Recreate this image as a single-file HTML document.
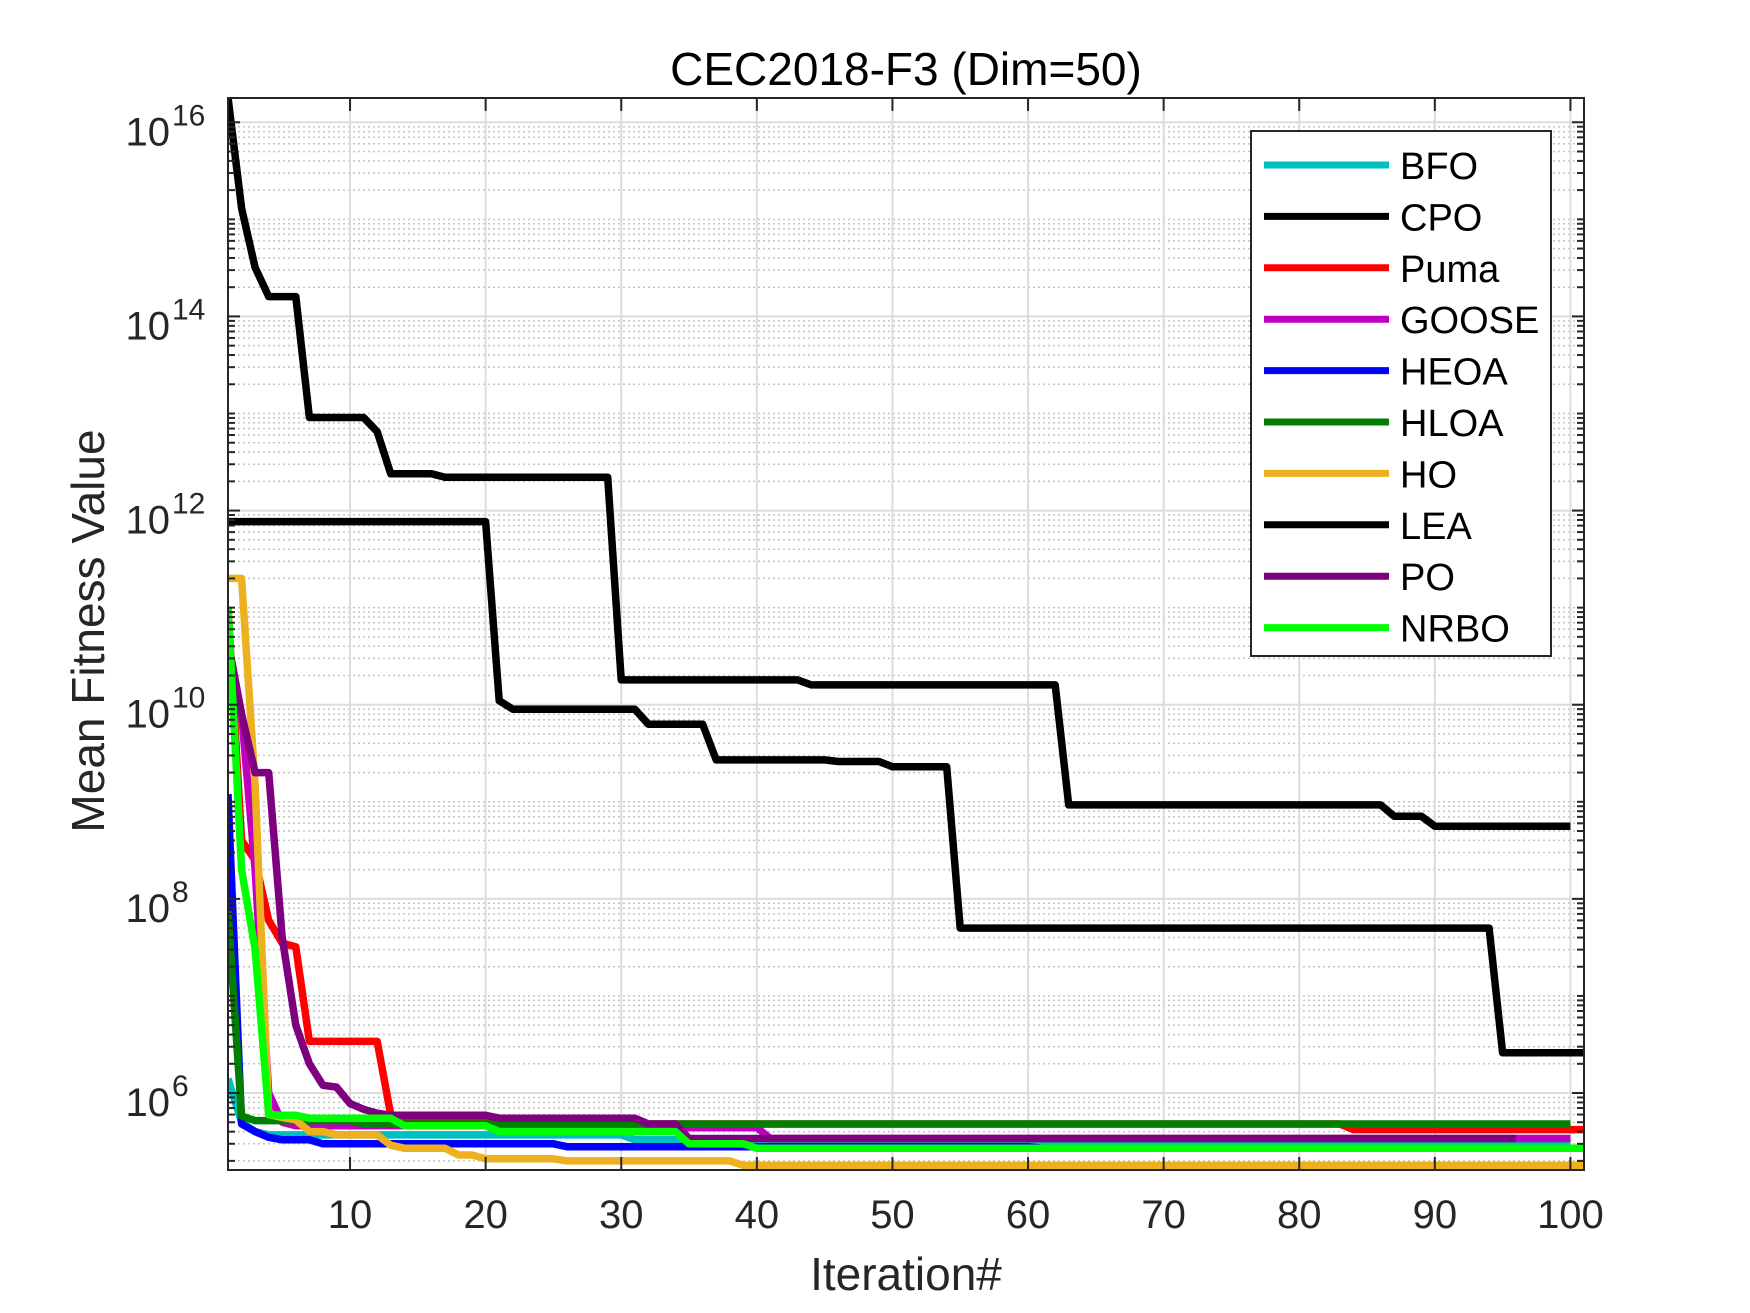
<!DOCTYPE html>
<html><head><meta charset="utf-8"><style>
html,body{margin:0;padding:0;background:#fff}
svg{display:block;font-family:"Liberation Sans",Arial,sans-serif}
</style></head><body>
<svg id="chart" width="1750" height="1313" viewBox="0 0 1750 1313" xmlns="http://www.w3.org/2000/svg">
<rect width="1750" height="1313" fill="#fff"/>
<defs><clipPath id="plotclip"><rect x="228" y="98" width="1356" height="1072"/></clipPath></defs>
<g id="grid"></g>
<g id="series" clip-path="url(#plotclip)"></g>
<g id="axes"></g>
<text x="906" y="85" font-size="46" text-anchor="middle" fill="#000">CEC2018-F3 (Dim=50)</text>
<text x="906" y="1290" font-size="46" text-anchor="middle" fill="#262626">Iteration#</text>
<text transform="translate(104,631) rotate(-90)" font-size="46" text-anchor="middle" fill="#262626">Mean Fitness Value</text>
<g id="legend"></g>
</svg>
<script>
const names = ["BFO","CPO","Puma","GOOSE","HEOA","HLOA","HO","LEA","PO","NRBO"];
const colors = ["#00BFBF","#000000","#FF0000","#BF00BF","#0000FF","#007F00","#EDB120","#000000","#7E007E","#00FF00"];
const xTicks = [10,20,30,40,50,60,70,80,90,100];
const yTickExps = [6,8,10,12,14,16];

const BFO = [1.4e6,5e5,4e5,3.7e5,3.7e5,3.7e5,3.7e5,3.7e5,3.7e5,3.7e5,3.7e5,3.7e5,3.7e5,3.7e5,3.7e5,3.7e5,3.7e5,3.7e5,3.7e5,3.7e5,3.7e5,3.7e5,3.7e5,3.7e5,3.7e5,3.7e5,3.7e5,3.7e5,3.7e5,3.7e5,
3.3e5,3.3e5,3.3e5,3.3e5,3.3e5,3.3e5,3.3e5,3.3e5,3.3e5,3.3e5,3.3e5,3.3e5,3.3e5,3.3e5,3.3e5,3.3e5,3.3e5,3.3e5,3.3e5,3.3e5,3.3e5,3.3e5,3.3e5,3.3e5,3.3e5,3.3e5,3.3e5,3.3e5,3.3e5,3.3e5,
3.1e5,3.1e5,3.1e5,3.1e5,3.1e5,3.1e5,3.1e5,3.1e5,3.1e5,3.1e5,3.1e5,3.1e5,3.1e5,3.1e5,3.1e5,3.1e5,3.1e5,3.1e5,3.1e5,3.1e5,3.1e5,3.1e5,3.1e5,3.1e5,3.1e5,3.1e5,3.1e5,3.1e5,3.1e5,3.1e5,3.1e5,3.1e5,3.1e5,3.1e5,3.1e5,3.1e5,3.1e5,3.1e5,3.1e5,3.1e5];
const CPO = [1.8e16,1.3e15,3.2e14,1.6e14,1.6e14,1.6e14,9.1e12,9.1e12,9.1e12,9.1e12,9.1e12,6.5e12,2.4e12,2.4e12,2.4e12,2.4e12,
2.2e12,2.2e12,2.2e12,2.2e12,2.2e12,2.2e12,2.2e12,2.2e12,2.2e12,2.2e12,2.2e12,2.2e12,2.2e12,
1.8e10,1.8e10,1.8e10,1.8e10,1.8e10,1.8e10,1.8e10,1.8e10,1.8e10,1.8e10,1.8e10,1.8e10,1.8e10,1.8e10,
1.6e10,1.6e10,1.6e10,1.6e10,1.6e10,1.6e10,1.6e10,1.6e10,1.6e10,1.6e10,1.6e10,1.6e10,1.6e10,1.6e10,1.6e10,1.6e10,1.6e10,1.6e10,1.6e10,
9.3e8,9.3e8,9.3e8,9.3e8,9.3e8,9.3e8,9.3e8,9.3e8,9.3e8,9.3e8,9.3e8,9.3e8,9.3e8,9.3e8,9.3e8,9.3e8,9.3e8,9.3e8,9.3e8,9.3e8,9.3e8,9.3e8,9.3e8,9.3e8,
7.1e8,7.1e8,7.1e8,5.6e8,5.6e8,5.6e8,5.6e8,5.6e8,5.6e8,5.6e8,5.6e8,5.6e8,5.6e8,5.6e8];
const Puma = [1e11,4e8,2.5e8,6e7,3.5e7,3.2e7,3.4e6,3.4e6,3.4e6,3.4e6,3.4e6,3.4e6,6e5,5.3e5,5.3e5,5.3e5,5.3e5,5.3e5,5.3e5,5.3e5,
4.8e5,4.8e5,4.8e5,4.8e5,4.8e5,4.8e5,4.8e5,4.8e5,4.8e5,4.8e5,4.8e5,4.8e5,4.8e5,4.8e5,4.8e5,4.8e5,4.8e5,4.8e5,4.8e5,4.8e5,4.8e5,4.8e5,4.8e5,4.8e5,4.8e5,4.8e5,4.8e5,4.8e5,4.8e5,4.8e5,4.8e5,4.8e5,4.8e5,4.8e5,4.8e5,4.8e5,4.8e5,4.8e5,4.8e5,4.8e5,4.8e5,4.8e5,4.8e5,4.8e5,4.8e5,4.8e5,4.8e5,4.8e5,4.8e5,4.8e5,4.8e5,4.8e5,4.8e5,4.8e5,4.8e5,4.8e5,4.8e5,4.8e5,4.8e5,4.8e5,4.8e5,4.8e5,4.8e5,
4.2e5,4.2e5,4.2e5,4.2e5,4.2e5,4.2e5,4.2e5,4.2e5,4.2e5,4.2e5,4.2e5,4.2e5,4.2e5,4.2e5,4.2e5,4.2e5,4.2e5,4.2e5];
const GOOSE = [3.5e10,8e9,2e8,1e6,5e5,4.6e5,4.6e5,4.6e5,4.6e5,4.6e5,4.6e5,4.6e5,4.6e5,4.6e5,4.6e5,4.6e5,4.6e5,4.6e5,4.6e5,4.6e5,
4.4e5,4.4e5,4.4e5,4.4e5,4.4e5,4.4e5,4.4e5,4.4e5,4.4e5,4.4e5,4.4e5,4.4e5,4.4e5,4.4e5,4.4e5,4.4e5,4.4e5,4.4e5,4.4e5,4.4e5,
3.4e5,3.4e5,3.4e5,3.4e5,3.4e5,3.4e5,3.4e5,3.4e5,3.4e5,3.4e5,3.4e5,3.4e5,3.4e5,3.4e5,3.4e5,3.4e5,3.4e5,3.4e5,3.4e5,3.4e5,3.4e5,3.4e5,3.4e5,3.4e5,3.4e5,3.4e5,3.4e5,3.4e5,3.4e5,3.4e5,3.4e5,3.4e5,3.4e5,3.4e5,3.4e5,3.4e5,3.4e5,3.4e5,3.4e5,3.4e5,3.4e5,3.4e5,3.4e5,3.4e5,3.4e5,3.4e5,3.4e5,3.4e5,3.4e5,3.4e5,3.4e5,3.4e5,3.4e5,3.4e5,3.4e5,3.4e5,3.4e5,3.4e5,3.4e5,3.4e5];
const HEOA = [1.2e9,4.8e5,4e5,3.5e5,3.3e5,3.3e5,3.3e5,3e5,3e5,3e5,3e5,3e5,3e5,3e5,3e5,3e5,3e5,3e5,3e5,3e5,3e5,3e5,3e5,3e5,3e5,
2.8e5,2.8e5,2.8e5,2.8e5,2.8e5,2.8e5,2.8e5,2.8e5,2.8e5,2.8e5,2.8e5,2.8e5,2.8e5,2.8e5,2.8e5,2.8e5,2.8e5,2.8e5,2.8e5,2.8e5,2.8e5,2.8e5,2.8e5,2.8e5,2.8e5,2.8e5,2.8e5,2.8e5,2.8e5,2.8e5,2.8e5,2.8e5,2.8e5,2.8e5,2.8e5,
2.7e5,2.7e5,2.7e5,2.7e5,2.7e5,2.7e5,2.7e5,2.7e5,2.7e5,2.7e5,2.7e5,2.7e5,2.7e5,2.7e5,2.7e5,2.7e5,2.7e5,2.7e5,2.7e5,2.7e5,2.7e5,2.7e5,2.7e5,2.7e5,2.7e5,2.7e5,2.7e5,2.7e5,2.7e5,2.7e5,2.7e5,2.7e5,2.7e5,2.7e5,2.7e5,2.7e5,2.7e5,2.7e5,2.7e5,2.7e5];
const HLOA = [7.5e7,5.8e5,5.2e5,5.2e5,5.2e5,5.2e5,5.2e5,5.2e5,5.2e5,5.2e5,
4.8e5,4.8e5,4.8e5,4.8e5,4.8e5,4.8e5,4.8e5,4.8e5,4.8e5,4.8e5,4.8e5,4.8e5,4.8e5,4.8e5,4.8e5,4.8e5,4.8e5,4.8e5,4.8e5,4.8e5,4.8e5,4.8e5,4.8e5,4.8e5,4.8e5,4.8e5,4.8e5,4.8e5,4.8e5,4.8e5,4.8e5,4.8e5,4.8e5,4.8e5,4.8e5,4.8e5,4.8e5,4.8e5,4.8e5,4.8e5,4.8e5,4.8e5,4.8e5,4.8e5,4.8e5,
4.8e5,4.8e5,4.8e5,4.8e5,4.8e5,4.8e5,4.8e5,4.8e5,4.8e5,4.8e5,4.8e5,4.8e5,4.8e5,4.8e5,4.8e5,4.8e5,4.8e5,4.8e5,4.8e5,4.8e5,4.8e5,4.8e5,4.8e5,4.8e5,4.8e5,4.8e5,4.8e5,4.8e5,4.8e5,4.8e5,4.8e5,4.8e5,4.8e5,4.8e5,4.8e5,4.8e5,4.8e5,4.8e5,4.8e5,4.8e5,4.8e5,4.8e5,4.8e5,4.8e5,4.8e5];
const HO = [2e11,2e11,1.5e9,6e5,5.6e5,5.3e5,4e5,4e5,3.7e5,3.7e5,3.7e5,3.7e5,2.9e5,2.7e5,2.7e5,2.7e5,2.7e5,2.3e5,2.3e5,2.1e5,2.1e5,2.1e5,2.1e5,2.1e5,2.1e5,
2e5,2e5,2e5,2e5,2e5,2e5,2e5,2e5,2e5,2e5,2e5,2e5,2e5,
1.8e5,1.8e5,1.8e5,1.8e5,1.8e5,1.8e5,1.8e5,1.8e5,1.8e5,1.8e5,1.8e5,1.8e5,1.8e5,1.8e5,1.8e5,1.8e5,1.8e5,1.8e5,1.8e5,1.8e5,1.8e5,1.8e5,1.8e5,1.8e5,1.8e5,1.8e5,1.8e5,1.8e5,1.8e5,1.8e5,1.8e5,1.8e5,1.8e5,1.8e5,1.8e5,1.8e5,1.8e5,1.8e5,1.8e5,1.8e5,1.8e5,1.8e5,1.8e5,1.8e5,1.8e5,1.8e5,1.8e5,1.8e5,1.8e5,1.8e5,1.8e5,1.8e5,1.8e5,1.8e5,1.8e5,1.8e5,1.8e5,1.8e5,1.8e5,1.8e5,1.8e5,1.8e5,1.8e5];
const LEA = [7.7e11,7.7e11,7.7e11,7.7e11,7.7e11,7.7e11,7.7e11,7.7e11,7.7e11,7.7e11,7.7e11,7.7e11,7.7e11,7.7e11,7.7e11,7.7e11,7.7e11,7.7e11,7.7e11,7.7e11,
1.1e10,9e9,9e9,9e9,9e9,9e9,9e9,9e9,9e9,9e9,9e9,6.3e9,6.3e9,6.3e9,6.3e9,6.3e9,
2.7e9,2.7e9,2.7e9,2.7e9,2.7e9,2.7e9,2.7e9,2.7e9,2.7e9,2.6e9,2.6e9,2.6e9,2.6e9,2.3e9,2.3e9,2.3e9,2.3e9,2.3e9,
5e7,5e7,5e7,5e7,5e7,5e7,5e7,5e7,5e7,5e7,5e7,5e7,5e7,5e7,5e7,5e7,5e7,5e7,5e7,5e7,5e7,5e7,5e7,5e7,5e7,5e7,5e7,5e7,5e7,5e7,5e7,5e7,5e7,5e7,5e7,5e7,5e7,5e7,5e7,5e7,
2.6e6,2.6e6,2.6e6,2.6e6,2.6e6,2.6e6,2.6e6];
const PO = [4.5e10,8e9,2e9,2e9,4e7,5e6,2e6,1.2e6,1.15e6,7.8e5,6.8e5,6.2e5,5.9e5,5.9e5,5.9e5,5.9e5,5.9e5,5.9e5,5.9e5,5.9e5,
5.5e5,5.5e5,5.5e5,5.5e5,5.5e5,5.5e5,5.5e5,5.5e5,5.5e5,5.5e5,5.5e5,4.8e5,4.8e5,4.8e5,
3.4e5,3.4e5,3.4e5,3.4e5,3.4e5,3.4e5,3.4e5,3.4e5,3.4e5,3.4e5,3.4e5,3.4e5,3.4e5,3.4e5,3.4e5,3.4e5,3.4e5,3.4e5,3.4e5,3.4e5,3.4e5,3.4e5,3.4e5,3.4e5,3.4e5,3.4e5,3.4e5,3.4e5,3.4e5,3.4e5,3.4e5,3.4e5,3.4e5,3.4e5,3.4e5,3.4e5,3.4e5,3.4e5,3.4e5,3.4e5,3.4e5,3.4e5,3.4e5,3.4e5,3.4e5,3.4e5,3.4e5,3.4e5,3.4e5,3.4e5,3.4e5,3.4e5,3.4e5,3.4e5,3.4e5,3.4e5,3.4e5,3.4e5,3.4e5,3.4e5,3.4e5,3.4e5];
const NRBO = [1e11,2e8,3e7,6e5,5.9e5,5.9e5,5.5e5,5.5e5,5.5e5,5.5e5,5.5e5,5.5e5,5.5e5,4.6e5,4.6e5,4.6e5,4.6e5,4.6e5,4.6e5,4.6e5,
4e5,4e5,4e5,4e5,4e5,4e5,4e5,4e5,4e5,4e5,4e5,4e5,4e5,4e5,3e5,3e5,3e5,3e5,3e5,
2.7e5,2.7e5,2.7e5,2.7e5,2.7e5,2.7e5,2.7e5,2.7e5,2.7e5,2.7e5,2.7e5,2.7e5,2.7e5,2.7e5,2.7e5,2.7e5,2.7e5,2.7e5,2.7e5,2.7e5,2.7e5,2.7e5,2.7e5,2.7e5,2.7e5,2.7e5,2.7e5,2.7e5,2.7e5,2.7e5,2.7e5,2.7e5,2.7e5,2.7e5,2.7e5,2.7e5,2.7e5,2.7e5,2.7e5,2.7e5,2.7e5,2.7e5,2.7e5,2.7e5,2.7e5,2.7e5,2.7e5,2.7e5,2.7e5,2.7e5,2.7e5,2.7e5,2.7e5,2.7e5,2.7e5,2.7e5,2.7e5,2.7e5,2.7e5,2.7e5,2.7e5,2.7e5];
const seriesData = [BFO,CPO,Puma,GOOSE,HEOA,HLOA,HO,LEA,PO,NRBO];

const NS = "http://www.w3.org/2000/svg";
const L = 228, R = 1584, T = 98, B = 1170;
const xMin = 1, xMax = 101, yMin = 5.207, yMax = 16.25;
function xs(v){ return L + (v - xMin) / (xMax - xMin) * (R - L); }
function ys(v){ return B - (Math.log10(v) - yMin) / (yMax - yMin) * (B - T); }
function mk(tag, attrs, parent){ const e = document.createElementNS(NS, tag); for (const k in attrs) e.setAttribute(k, attrs[k]); parent.appendChild(e); return e; }

const grid = document.getElementById('grid');
const axes = document.getElementById('axes');
for (let k = 5; k <= 16; k++) {
  for (let m = 1; m <= 9; m++) {
    const v = m * Math.pow(10, k);
    const lv = Math.log10(v);
    if (lv < yMin || lv > yMax) continue;
    const y = ys(v);
    const major = (m === 1 && yTickExps.indexOf(k) >= 0);
    if (!major) {
      const gl = mk('line', {x1:L, x2:R, y1:y, y2:y, stroke:'#c4c4c4', 'stroke-width':1.5, 'stroke-dasharray':'2,3'}, grid);
      
      
    }
    const tl = major ? 12 : 7;
    const t1 = mk('line', {x1:L, x2:L+tl, y1:y, y2:y, stroke:'#262626', 'stroke-width':2}, axes);
    
    
    const t2 = mk('line', {x1:R, x2:R-tl, y1:y, y2:y, stroke:'#262626', 'stroke-width':2}, axes);
    
    
  }
}
yTickExps.forEach(function(k){
  const y = ys(Math.pow(10, k));
  const gl = mk('line', {x1:L, x2:R, y1:y, y2:y, stroke:'#dcdcdc', 'stroke-width':2}, grid);
  
  
  const t = mk('text', {x:170, y:y+23, 'font-size':40, 'text-anchor':'end', fill:'#262626'}, axes);
  
  
  t.textContent = '10';
  const s = mk('text', {x:172, y:y+3, 'font-size':30, fill:'#262626'}, axes);
  
  
  s.textContent = String(k);
});
xTicks.forEach(function(v){
  const x = xs(v);
  const gl = mk('line', {x1:x, x2:x, y1:T, y2:B, stroke:'#dcdcdc', 'stroke-width':2}, grid);
  
  
  const t1 = mk('line', {x1:x, x2:x, y1:B, y2:B-13, stroke:'#262626', 'stroke-width':2}, axes);
  
  
  const t2 = mk('line', {x1:x, x2:x, y1:T, y2:T+13, stroke:'#262626', 'stroke-width':2}, axes);
  
  
  const lb = mk('text', {x:x, y:1228, 'font-size':40, 'text-anchor':'middle', fill:'#262626'}, axes);
  
  
  lb.textContent = String(v);
});
const box = mk('rect', {x:L, y:T, width:R-L, height:B-T, fill:'none', stroke:'#262626', 'stroke-width':2}, axes);



const sg = document.getElementById('series');
seriesData.forEach(function(arr, i){
  const pts = arr.map(function(v, j){ return xs(j + 1).toFixed(1) + ',' + ys(v).toFixed(1); }).join(' ');
  const pl = mk('polyline', {points:pts, fill:'none', stroke:colors[i], 'stroke-width':7.5, 'stroke-linejoin':'round', 'stroke-linecap':'butt'}, sg);
  
  
});

const lg = document.getElementById('legend');
const lbox = mk('rect', {x:1251, y:131, width:300, height:525, fill:'#fff', stroke:'#262626', 'stroke-width':2}, lg);


names.forEach(function(n, i){
  const y = 165 + i * 51.4;
  const ln = mk('line', {x1:1264, x2:1389, y1:y, y2:y, stroke:colors[i], 'stroke-width':7}, lg);
  
  
  const tx = mk('text', {x:1400, y:y+14, 'font-size':38, fill:'#000'}, lg);
  
  
  tx.textContent = n;
});
</script>
</body></html>
